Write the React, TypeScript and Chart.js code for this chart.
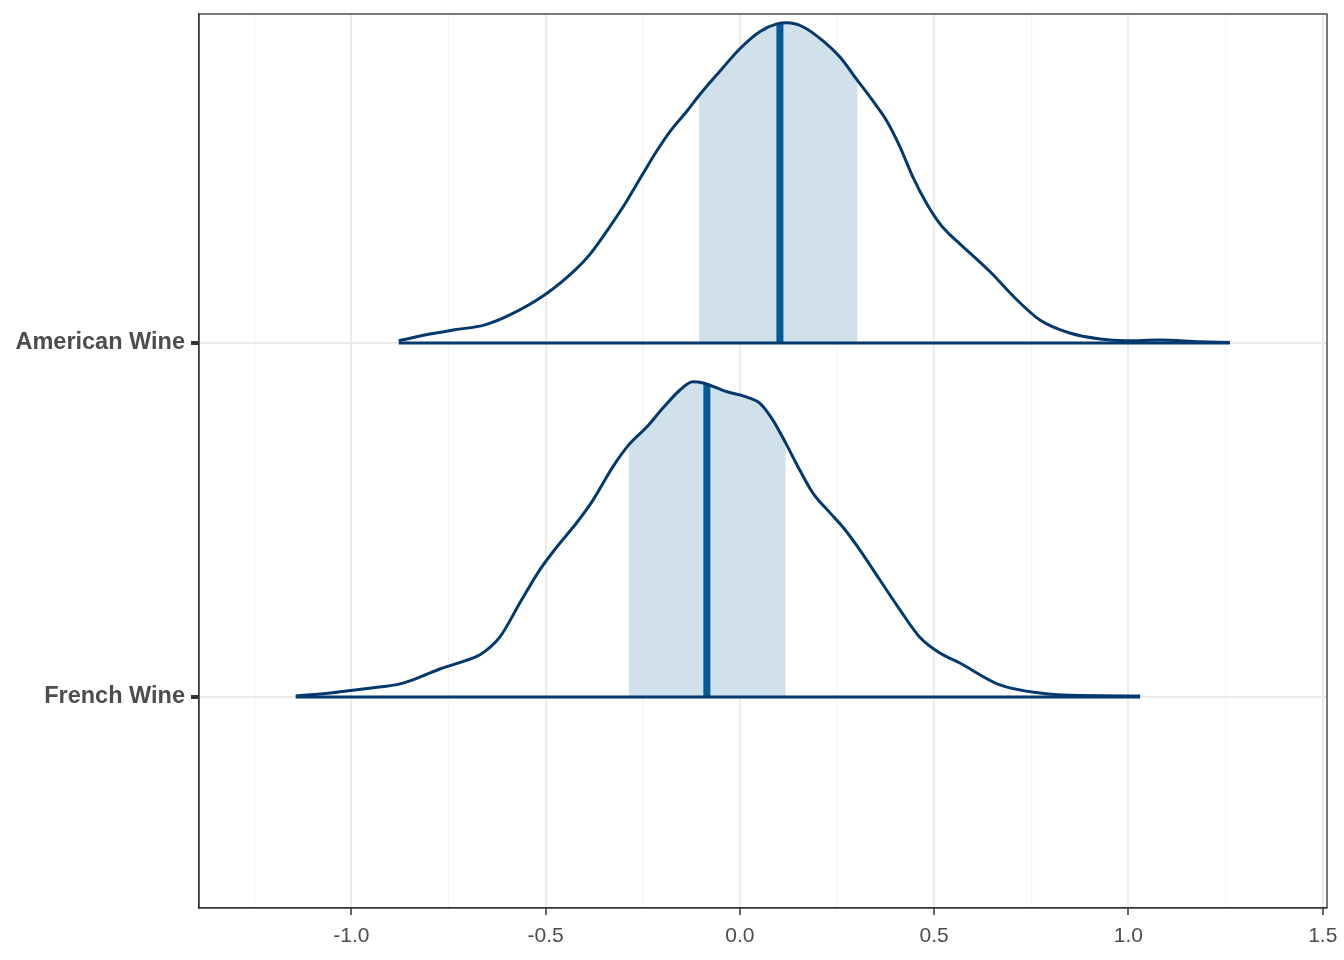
import React, { useEffect, useRef } from "react";
import { Chart, registerables } from "chart.js";

Chart.register(...registerables);

const categories = ["French Wine", "American Wine"];

const americanX = [-0.878, -0.798, -0.734, -0.656, -0.592, -0.502, -0.425, -0.386, -0.335, -0.291, -0.25, -0.214, -0.18, -0.136, -0.105, -0.051, 0, 0.051, 0.095, 0.121, 0.162, 0.214, 0.257, 0.303, 0.342, 0.378, 0.412, 0.445, 0.481, 0.515, 0.541, 0.566, 0.644, 0.708, 0.772, 0.849, 0.927, 0.991, 1.081, 1.184, 1.261];
const americanDensity = [0.006, 0.025, 0.037, 0.051, 0.079, 0.136, 0.205, 0.25, 0.328, 0.401, 0.477, 0.542, 0.597, 0.655, 0.699, 0.768, 0.831, 0.879, 0.901, 0.904, 0.893, 0.853, 0.808, 0.741, 0.684, 0.627, 0.554, 0.469, 0.393, 0.336, 0.305, 0.28, 0.201, 0.127, 0.065, 0.028, 0.011, 0.006, 0.008, 0.003, 0.001];

const frenchX = [-1.143, -1.055, -0.991, -0.927, -0.875, -0.824, -0.772, -0.708, -0.669, -0.618, -0.566, -0.515, -0.471, -0.42, -0.378, -0.327, -0.286, -0.239, -0.198, -0.154, -0.121, -0.095, -0.033, 0.018, 0.051, 0.085, 0.118, 0.154, 0.188, 0.232, 0.265, 0.309, 0.36, 0.412, 0.463, 0.515, 0.566, 0.669, 0.772, 0.875, 1.03];
const frenchDensity = [0.003, 0.011, 0.02, 0.028, 0.037, 0.056, 0.079, 0.102, 0.119, 0.169, 0.266, 0.359, 0.424, 0.492, 0.556, 0.65, 0.712, 0.763, 0.816, 0.867, 0.89, 0.887, 0.862, 0.847, 0.83, 0.782, 0.717, 0.641, 0.576, 0.52, 0.48, 0.415, 0.331, 0.246, 0.169, 0.124, 0.096, 0.034, 0.011, 0.004, 0.003];

// index 0 = French Wine, index 1 = American Wine
const intervalLow = [-0.286, -0.105];
const intervalHigh = [0.118, 0.303];
const medians = [-0.085, 0.103];
const medianDensity = [0.883, 0.902];

const xTickValues = [-1.25, -1.0, -0.75, -0.5, -0.25, 0, 0.25, 0.5, 0.75, 1.0, 1.25, 1.5];

const DARK = "#03396c";
const MID = "#005b96";
const LIGHT = "#d1e1ec";

const isMinor = (n: number) => Math.abs(n * 2 - Math.round(n * 2)) > 1e-9;

export default function App() {
  const ref = useRef<HTMLCanvasElement | null>(null);

  useEffect(() => {
    document.body.style.margin = "0";
    const xs = [frenchX, americanX];
    const ds = [frenchDensity, americanDensity];
    const datasets: any[] = [];
    for (let i = 0; i < 2; i++) {
      const base = i + 1;
      const pts = xs[i].map((x, k) => ({ x, y: base + ds[i][k] }));
      const shade = pts.filter((p) => p.x >= intervalLow[i] - 1e-9 && p.x <= intervalHigh[i] + 1e-9);
      datasets.push({
        data: shade,
        borderWidth: 0,
        borderColor: "rgba(0,0,0,0)",
        backgroundColor: LIGHT,
        fill: { value: base },
        pointRadius: 0,
        cubicInterpolationMode: "monotone",
        order: 4,
      });
      datasets.push({
        data: [
          { x: medians[i], y: base },
          { x: medians[i], y: base + medianDensity[i] },
        ],
        borderColor: MID,
        borderWidth: 7,
        pointRadius: 0,
        fill: false,
        borderCapStyle: "butt",
        order: 3,
      });
      datasets.push({
        data: pts,
        borderColor: DARK,
        borderWidth: 3,
        pointRadius: 0,
        fill: false,
        cubicInterpolationMode: "monotone",
        order: 2,
      });
      datasets.push({
        data: [
          { x: xs[i][0], y: base },
          { x: xs[i][xs[i].length - 1], y: base },
        ],
        borderColor: DARK,
        borderWidth: 3,
        pointRadius: 0,
        fill: false,
        order: 1,
      });
    }

    const borderPlugin = {
      id: "panelBorder",
      afterDraw(chart: any) {
        const { ctx, chartArea } = chart;
        ctx.save();
        ctx.strokeStyle = "#333333";
        ctx.lineWidth = 1.3;
        ctx.strokeRect(chartArea.left, chartArea.top, chartArea.right - chartArea.left, chartArea.bottom - chartArea.top);
        ctx.restore();
      },
    };

    const chart = new Chart(ref.current as HTMLCanvasElement, {
      type: "line",
      data: { datasets },
      plugins: [borderPlugin],
      options: {
        animation: false,
        responsive: false,
        maintainAspectRatio: false,
        layout: { padding: { left: 0, right: 17, top: 14, bottom: 0 } },
        plugins: { legend: { display: false }, tooltip: { enabled: false } },
        scales: {
          x: {
            type: "linear",
            min: -1.392,
            max: 1.511,
            afterBuildTicks: (axis: any) => {
              axis.ticks = xTickValues.map((v) => ({ value: v }));
            },
            afterFit: (axis: any) => {
              axis.height = 52;
              axis.paddingLeft = 0;
              axis.paddingRight = 0;
            },
            ticks: {
              autoSkip: false,
              maxRotation: 0,
              color: "#4D4D4D",
              font: { family: "Liberation Sans, Arial, sans-serif", size: 21 },
              padding: 9,
              callback: (v: any) => {
                const n = Number(v);
                return isMinor(n) ? "" : n.toFixed(1);
              },
            },
            grid: {
              color: (c: any) => (isMinor(c.tick ? c.tick.value : 0) ? "#F3F3F3" : "#EBEBEB"),
              lineWidth: (c: any) => (isMinor(c.tick ? c.tick.value : 0) ? 1.2 : 2),
              tickColor: (c: any) => (isMinor(c.tick ? c.tick.value : 0) ? "rgba(0,0,0,0)" : "#333333"),
              tickWidth: 1.5,
              tickLength: 7,
            },
            border: { display: true, color: "#333333", width: 1.3 },
          },
          y: {
            type: "linear",
            min: 0.404,
            max: 2.929,
            afterBuildTicks: (axis: any) => {
              axis.ticks = categories.map((_, i) => ({ value: i + 1 }));
            },
            afterFit: (axis: any) => {
              axis.width = 199;
              axis.paddingTop = 0;
              axis.paddingBottom = 0;
            },
            ticks: {
              autoSkip: false,
              color: "#4D4D4D",
              font: { family: "Liberation Sans, Arial, sans-serif", size: 23.5, weight: "bold" },
              padding: 6,
              callback: (v: any) => categories[Math.round(Number(v)) - 1] ?? "",
            },
            grid: {
              color: "#EBEBEB",
              lineWidth: 2,
              tickColor: "#333333",
              tickWidth: 4,
              tickLength: 8,
            },
            border: { display: true, color: "#333333", width: 1.3 },
          },
        },
      },
    });
    return () => chart.destroy();
  }, []);

  return (
    <div style={{ width: 1344, height: 960, background: "#ffffff" }}>
      <canvas ref={ref} width={1344} height={960} style={{ display: "block" }} />
    </div>
  );
}
